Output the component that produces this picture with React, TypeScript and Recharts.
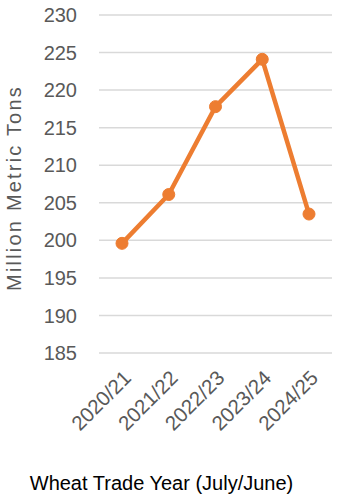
import React from 'react';
import { LineChart, Line, XAxis, YAxis, CartesianGrid } from 'recharts';

const years = ['2020/21', '2021/22', '2022/23', '2023/24', '2024/25'];
const tradeVolume = [199.6, 206.1, 217.8, 224.1, 203.5];
const yTicks = [185, 190, 195, 200, 205, 210, 215, 220, 225, 230];

const data = years.map((y, i) => ({ year: y, value: tradeVolume[i] }));

const FONT = '"Liberation Sans", Arial, sans-serif';

export default function App() {
  return (
    <div style={{ position: 'absolute', left: 0, top: 0, background: '#fff' }}>
      <LineChart width={353} height={500} data={data} margin={{ top: 15, right: 21, bottom: 0, left: 0 }}>
        <CartesianGrid vertical={false} stroke="#d9d9d9" strokeWidth={1.5} />
        <XAxis
          dataKey="year"
          axisLine={false}
          tickLine={false}
          tickSize={0}
          tickMargin={16}
          height={147}
          interval={0}
          angle={-45}
          padding={{ left: 23, right: 23 }}
          textAnchor="end"
          tick={{ fill: '#595959', fontSize: 20.5, fontFamily: FONT }}
          label={{ value: 'Wheat Trade Year (July/June)', position: 'insideBottom', offset: 10, dx: -54, style: { fill: '#000', fontSize: 20, fontFamily: FONT } }}
        />
        <YAxis
          domain={[185, 230]}
          ticks={yTicks}
          axisLine={false}
          tickLine={false}
          tickSize={0}
          tickMargin={22}
          width={99}
          tick={{ fill: '#595959', fontSize: 20, fontFamily: FONT }}
          label={{ value: 'Million Metric Tons', angle: -90, position: 'insideLeft', offset: 14, dy: 4, style: { textAnchor: 'middle', fill: '#595959', fontSize: 20, letterSpacing: 2.2, fontFamily: FONT } }}
        />
        <Line
          type="linear"
          dataKey="value"
          stroke="#ED7D31"
          strokeWidth={4.5}
          dot={{ r: 6, fill: '#ED7D31', stroke: '#ED7D31', strokeWidth: 1 }}
          isAnimationActive={false}
        />
      </LineChart>
    </div>
  );
}
